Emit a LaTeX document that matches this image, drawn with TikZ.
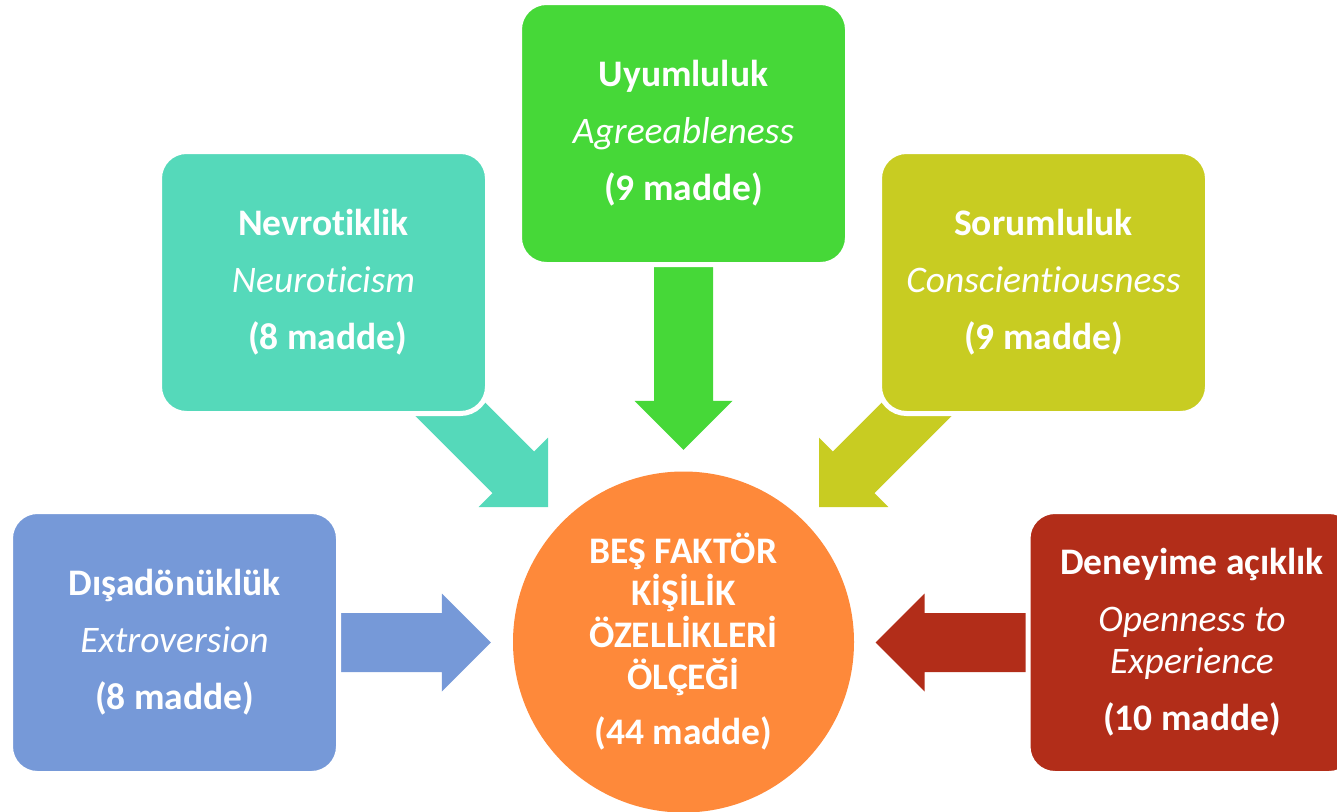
\documentclass[tikz,border=0pt]{standalone}
\usepackage{fontspec}
\setmainfont{Carlito}[Ligatures={NoCommon,NoDiscretionary,NoContextual}]
\usetikzlibrary{calc}
\pgfdeclarelayer{background}
\pgfsetlayers{background,main}

\definecolor{cTeal}{RGB}{85,217,186}
\definecolor{cGreen}{RGB}{70,216,56}
\definecolor{cOlive}{RGB}{200,204,34}
\definecolor{cBlue}{RGB}{118,153,216}
\definecolor{cRed}{RGB}{178,45,25}
\definecolor{cOrange}{RGB}{254,137,58}

% Block arrow from (#2) to (#3), filled with colour #1
\newcommand\blockarrow[3]{%
  \pgfpointdiff{\pgfpointanchor{#2}{center}}{\pgfpointanchor{#3}{center}}%
  \pgfgetlastxy\baDx\baDy
  \pgfmathsetmacro\baAngle{atan2(\baDy,\baDx)}%
  \pgfmathsetmacro\baLen{veclen(\baDx,\baDy)}%
  \fill[#1, shift={(#3)}, rotate=\baAngle]
    (0,0) -- (-49,49) -- (-49,29.5) -- (-\baLen,29.5)
    -- (-\baLen,-29.5) -- (-49,-29.5) -- (-49,-49) -- cycle;
}

\begin{document}
\begin{tikzpicture}[x=1pt,y=-1pt,
  factor/.style={rectangle, rounded corners=27pt, draw=white, line width=5pt,
    minimum width=328pt, minimum height=262pt, inner sep=0pt,
    text=white, align=center, font=\fontsize{37.5}{42}\selectfont},
  hub/.style={circle, minimum size=341pt, inner sep=0pt, fill=cOrange,
    text=white, align=center, font=\fontsize{37.5}{42}\selectfont\bfseries},
]
\useasboundingbox (0,0) rectangle (1337,811);
\clip (0,0) rectangle (1337,811);

% central scale
\node[hub] (scale) at (683.5,642)
  {BEŞ FAKTÖR\\KİŞİLİK\\ÖZELLİKLERİ\\ÖLÇEĞİ\\[13pt](44 madde)};

% the five factors
\node[factor, fill=cTeal] (neuro) at (323.5,282.5)
  {\textbf{Nevrotiklik}\\[15pt]\textit{Neuroticism}\\[15pt]\textbf{\hspace*{8pt}(8 madde)}};
\node[factor, fill=cGreen] (agree) at (683.5,133.5)
  {\textbf{Uyumluluk}\\[15pt]\textit{Agreeableness}\\[15pt]\textbf{(9 madde)}};
\node[factor, fill=cOlive] (consc) at (1043.5,282.5)
  {\textbf{Sorumluluk}\\[15pt]\textit{Conscientiousness}\\[15pt]\textbf{(9 madde)}};
\node[factor, fill=cBlue] (extra) at (174.5,642.5)
  {\textbf{Dışadönüklük}\\[15pt]\textit{Extroversion}\\[15pt]\textbf{(8 madde)}};
\node[factor, fill=cRed] (open) at (1192,642.5)
  {\textbf{Deneyime açıklık}\\[15pt]\textit{Openness to}\\\textit{Experience}\\[15pt]\textbf{(10 madde)}};

% arrow tips just short of the circle
\coordinate (tipN) at ($(scale.center)+(-135.5,-135)$);
\coordinate (tipA) at ($(scale.north)+(0,-21.5)$);
\coordinate (tipC) at ($(scale.center)+(135.5,-135)$);
\coordinate (tipE) at ($(scale.west)+(-22,0.5)$);
\coordinate (tipO) at ($(scale.east)+(21.5,0.5)$);

\begin{pgfonlayer}{background}
  \blockarrow{cTeal}{neuro}{tipN}
  \blockarrow{cGreen}{agree}{tipA}
  \blockarrow{cOlive}{consc}{tipC}
  \blockarrow{cBlue}{extra}{tipE}
  \blockarrow{cRed}{open}{tipO}
\end{pgfonlayer}
\end{tikzpicture}
\end{document}
